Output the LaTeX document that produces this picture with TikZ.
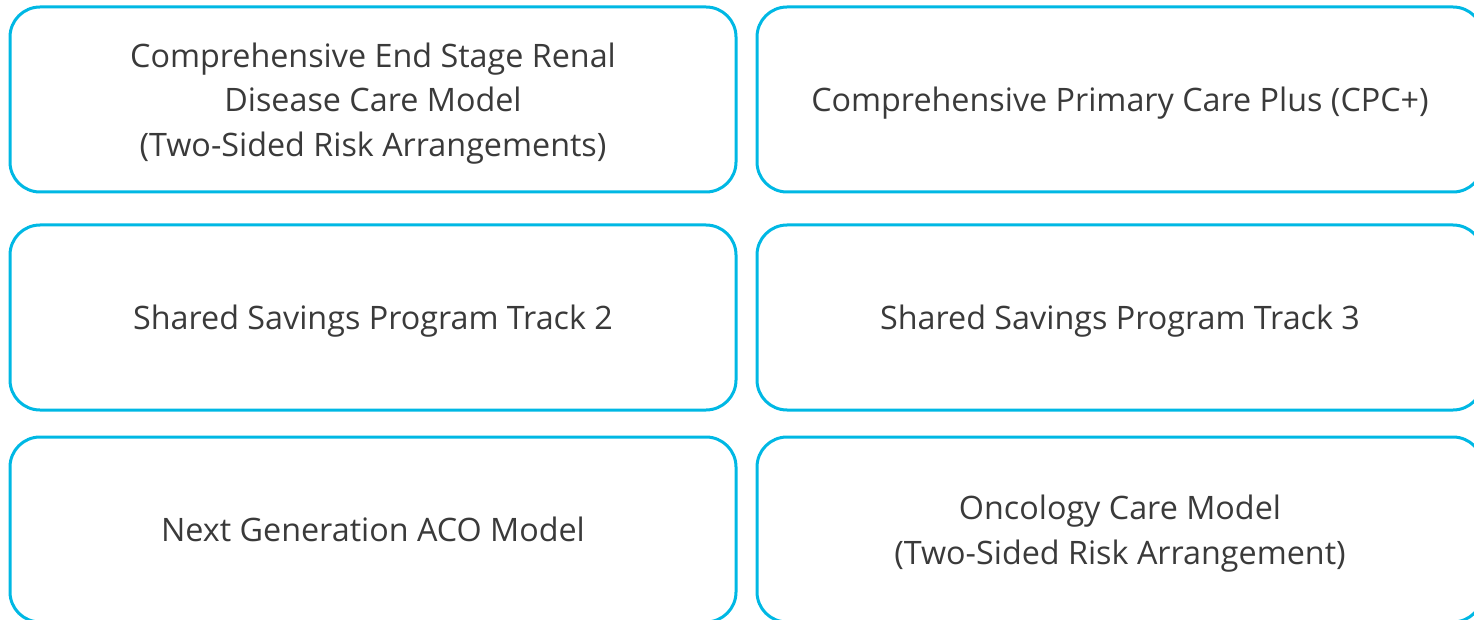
\documentclass[tikz,border=0pt]{standalone}
\usepackage{fontspec}
\setmainfont{Open Sans}
\usepackage{xcolor}
\definecolor{boxcyan}{RGB}{0,184,228}
\definecolor{boxtext}{RGB}{58,58,58}

\begin{document}
\begin{tikzpicture}[x=1pt, y=-1pt, every node/.style={draw=boxcyan, line width=3pt, rounded corners=30pt, align=center, text=boxtext, minimum width=726pt, minimum height=185pt, font=\fontsize{32.3}{44.5}\selectfont, text depth=-1.5pt}]
\useasboundingbox (0,0) rectangle (1474,620);
\node (esrd)   at (373,99.5)  {Comprehensive End Stage Renal\\Disease Care Model\\(Two-Sided Risk Arrangements)};
\node (cpc)    at (1120,99.5) {Comprehensive Primary Care Plus (CPC+)};
\node (track2) at (373,317.5) {Shared Savings Program Track 2};
\node (track3) at (1120,317.5) {Shared Savings Program Track 3};
\node (nextgen) at (373,529.5) {Next Generation ACO Model};
\node (onco)   at (1120,529.5) {Oncology Care Model\\(Two-Sided Risk Arrangement)};
\end{tikzpicture}
\end{document}
